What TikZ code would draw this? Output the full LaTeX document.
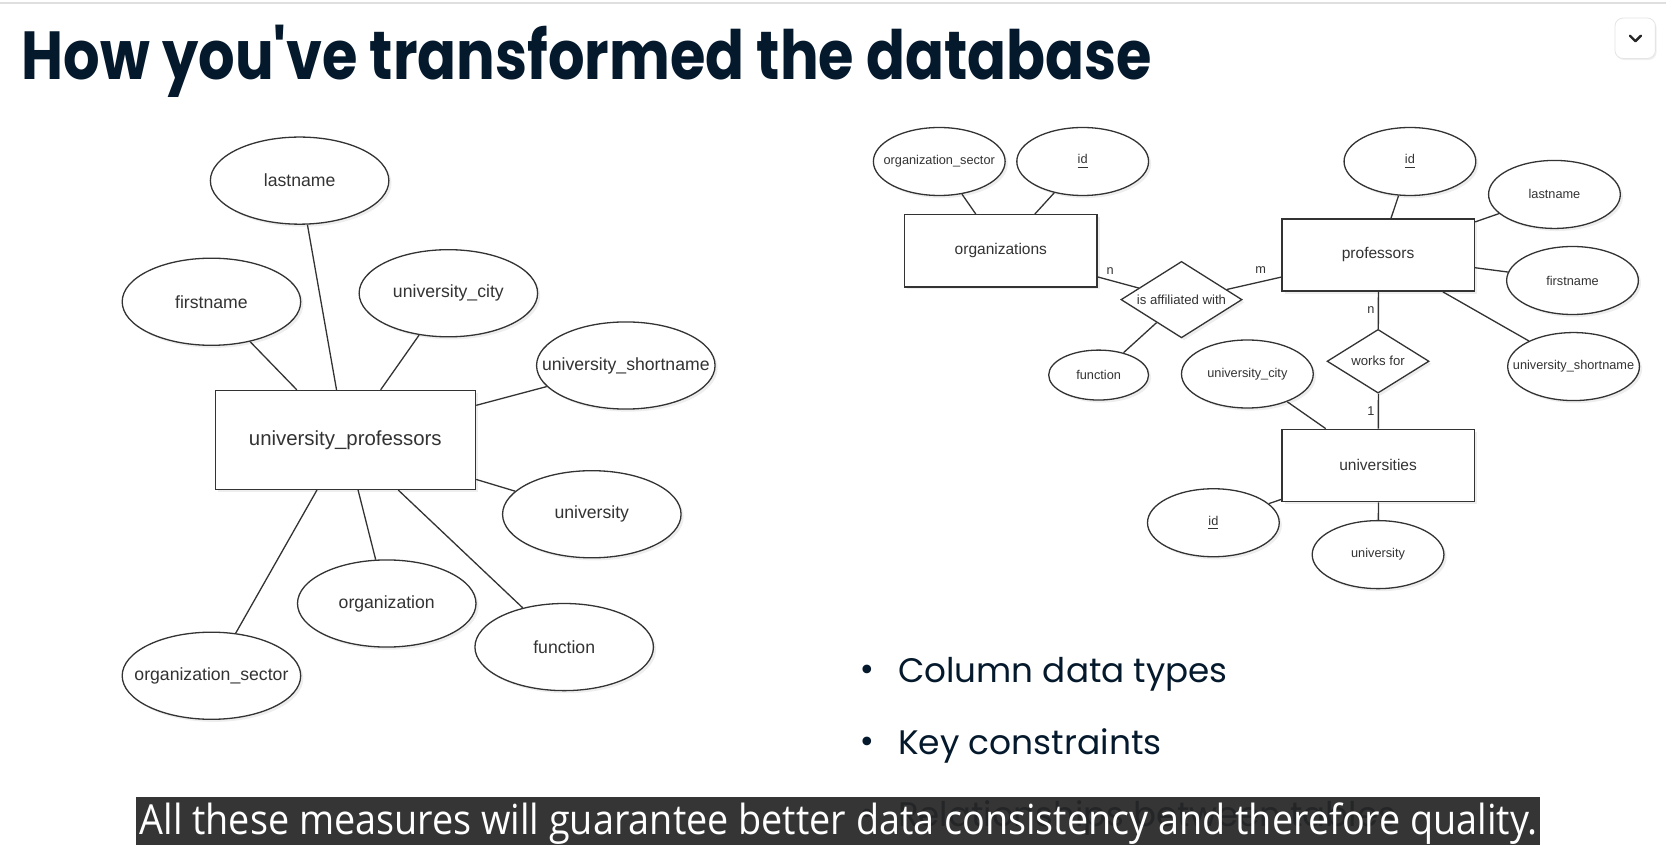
\documentclass[tikz,border=0pt]{standalone}
\usepackage{fontspec}
\setmainfont{Liberation Sans}
\newfontfamily\poppins{Poppins}
\newfontfamily\capfont{Open Sans}
\newfontfamily\dejavu{DejaVu Sans}
\usetikzlibrary{shapes.geometric,shadows}
\definecolor{navy}{HTML}{05192D}
\definecolor{ink}{HTML}{333333}
\newcommand\fitwd[2]{\setbox0\hbox{#2}\pgfmathsetmacro\fsx{#1/\the\wd0}\scalebox{\fsx}[1]{\box0}}
\newcommand\zw[1]{\makebox[0pt]{#1}}
\tikzset{
  shad/.style={drop shadow={opacity=0.13, shadow xshift=1.3pt, shadow yshift=-1.3pt}},
  attr/.style={ellipse, draw=ink, line width=0.65pt, fill=white, inner sep=0pt, text=ink, shad},
  attrL/.style={attr, minimum width=84pt, minimum height=41pt, font=\fontsize{8.3}{10}\selectfont},
  attrR/.style={attr, minimum width=62pt, minimum height=32pt, font=\fontsize{6}{7}\selectfont},
  ent/.style={rectangle, draw=ink, line width=0.65pt, fill=white, inner sep=0pt, text=ink, shad},
  entR/.style={ent, minimum width=90.5pt, minimum height=34pt, font=\fontsize{7.3}{9}\selectfont},
  rel/.style={diamond, draw=ink, line width=0.65pt, fill=white, inner sep=0pt, text=ink, shad, font=\fontsize{6.2}{7}\selectfont},
  conn/.style={draw=ink, line width=0.65pt},
  card/.style={text=ink, font=\fontsize{6}{7}\selectfont, inner sep=1.5pt},
  bullet/.style={text=navy, anchor=base west, inner sep=0pt, font=\poppins\fontsize{16}{19}\selectfont},
}
\begin{document}
\begin{tikzpicture}[x=0.5pt, y=-0.5pt, scale=1.0625, every node/.append style={transform shape}]
\useasboundingbox (0,0) rectangle (1568,811.3);
\fill[white] (0,0) rectangle (1568,811.3);
\draw[gray!25, line width=1pt] (0,3) -- (1568,3);

% title
\node[anchor=base west, inner sep=0pt, text=navy, font=\poppins\bfseries\fontsize{32}{38}\selectfont] (title) at (20,75) {\fitwd{532pt}{How you've transformed the database}};

% button
\node[draw=gray!20, fill=white, rounded corners=4pt, minimum size=19pt, inner sep=0pt, drop shadow={opacity=0.12, shadow xshift=0.6pt, shadow yshift=-0.8pt}] (btn) at (1539,36) {};
\draw[line width=1.2pt, black!85, line cap=round, line join=round] ([xshift=-2.6pt,yshift=1.2pt]btn.center) -- ([yshift=-1.4pt]btn.center) -- ([xshift=2.6pt,yshift=1.2pt]btn.center);

% ---------- left diagram ----------
\node[ent, minimum width=122.5pt, minimum height=46.5pt, font=\fontsize{9.6}{11}\selectfont] (upbox) at (325,414) {\zw{university\_professors}};
\node[attrL] (lastnameL) at (282,170) {\zw{lastname}};
\node[attrL] (firstnameL) at (199,284) {\zw{firstname}};
\node[attrL] (ucityL) at (422,276) {\zw{university\_city}};
\node[attrL] (ushortL) at (589,344) {\zw{university\_shortname}};
\node[attrL] (universityL) at (557,484) {\zw{university}};
\node[attrL] (organizationL) at (364,568) {\zw{organization}};
\node[attrL] (functionL) at (531,609) {\zw{function}};
\node[attrL] (osectorL) at (199,636) {\zw{organization\_sector}};
\foreach \n in {lastnameL,firstnameL,ucityL,ushortL,universityL,organizationL,functionL,osectorL}
  \draw[conn] (upbox) -- (\n);

% ---------- right diagram ----------
\node[entR] (orgs) at (942,236) {\zw{organizations}};
\node[entR] (profs) at (1297,240) {\zw{professors}};
\node[entR] (univs) at (1297,438) {\zw{universities}};
\node[attrR] (osectorR) at (884,152) {\zw{organization\_sector}};
\node[attrR] (idO) at (1019,152) {\zw{\underline{id}}};
\node[rel, minimum width=57pt, minimum height=36pt] (aff) at (1112,282) {\zw{is affiliated with}};
\node[attrR, minimum width=47pt, minimum height=23.5pt] (functionR) at (1034,353) {\zw{function}};
\node[attrR] (ucityR) at (1174,352) {\zw{university\_city}};
\node[attrR] (idP) at (1327,152) {\zw{\underline{id}}};
\node[attrR] (lastnameR) at (1463,183) {\zw{lastname}};
\node[attrR] (firstnameR) at (1480,264) {\zw{firstname}};
\node[attrR] (ushortR) at (1481,345) {\zw{university\_shortname}};
\node[rel, minimum width=48pt, minimum height=30pt] (works) at (1297,340) {\zw{works for}};
\node[attrR] (idU) at (1142,492) {\zw{\underline{id}}};
\node[attrR] (universityR) at (1297,522) {\zw{university}};

\draw[conn] (orgs) -- (osectorR);
\draw[conn] (orgs) -- (idO);
\draw[conn] (orgs) -- node[card, pos=0.3, above=1pt] {n} (aff);
\draw[conn] (aff) -- node[card, pos=0.62, above=2pt] {m} (profs);
\draw[conn] (aff) -- (functionR);
\draw[conn] (univs) -- (ucityR);
\draw[conn] (profs) -- (idP);
\draw[conn] (profs) -- (lastnameR);
\draw[conn] (profs) -- (firstnameR);
\draw[conn] (profs) -- (ushortR);
\draw[conn] (profs) -- node[card, left] {n} (works);
\draw[conn] (works) -- node[card, left] {1} (univs);
\draw[conn] (univs) -- (idU);
\draw[conn] (univs) -- (universityR);

% ---------- bullets ----------
\node[bullet, font=\dejavu\fontsize{14}{16}\selectfont] (b1) at (808,640) {•};
\node[bullet] (t1) at (845,642) {\fitwd{155pt}{Column data types}};
\node[bullet, font=\dejavu\fontsize{14}{16}\selectfont] (b2) at (808,708) {•};
\node[bullet] (t2) at (845,710) {\fitwd{124pt}{Key constraints}};
\node[bullet, font=\dejavu\fontsize{14}{16}\selectfont] (b3) at (808,776) {•};
\node[bullet] (t3) at (845,778) {Relationships between tables};

% ---------- caption ----------
\fill[black!85, opacity=0.93] (128,750) rectangle (1449,795);
\node[anchor=base west, inner sep=0pt, text=white, font=\capfont\fontsize{19.5}{22}\selectfont] (cap) at (131,785) {\fitwd{658pt}{All these measures will guarantee better data consistency and therefore quality.}};
\end{tikzpicture}
\end{document}
